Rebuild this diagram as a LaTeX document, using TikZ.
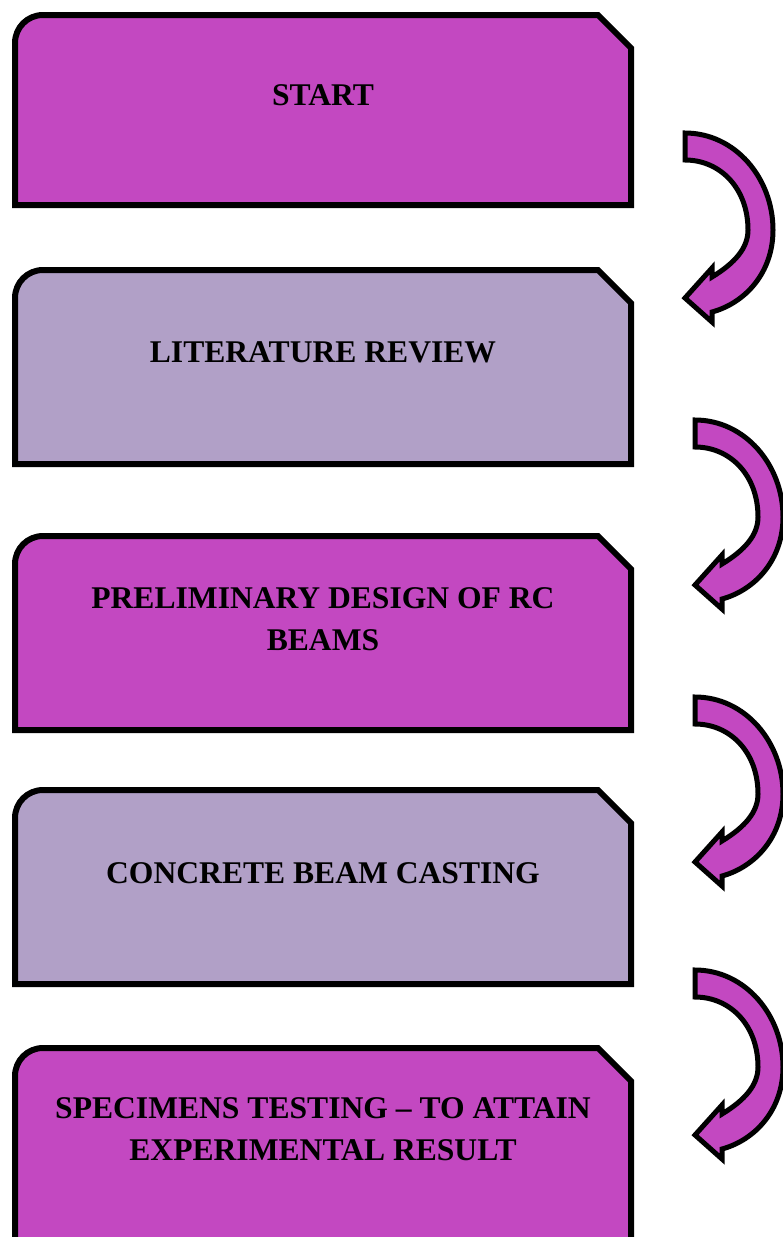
\documentclass[tikz,border=0pt]{standalone}
\usepackage{fontspec}
\setmainfont{Liberation Serif}
\usetikzlibrary{positioning}
\definecolor{stepmagenta}{RGB}{195,72,193}
\definecolor{steplavender}{RGB}{177,160,199}

% box with a round top-left and a cut top-right corner: #1 top, #2 bottom, #3 fill
\newcommand{\stagebox}[3]{%
	\draw [boxline, fill=#3] (15,#2) -- (15,#1+28) .. controls (15,#1+12.5) and (27.5,#1) .. (43,#1)
		-- (598,#1) -- (631,#1+33) -- (631,#2) -- cycle;}

\begin{document}
\begin{tikzpicture}[x=1pt, y=-1pt,
	boxline/.style={draw=black, line width=6pt},
	arrowline/.style={draw=black, fill=stepmagenta, line width=5pt},
	steptext/.style={font=\bfseries\fontsize{31.6}{42}\selectfont, align=center, inner sep=0pt},
	bendarrow/.pic={
		\draw [arrowline] (0,0) .. controls (50,0) and (88,45) .. (88,97)
			.. controls (88,140) and (60,170) .. (27,179) -- (27,189) -- (0,165) -- (27,135) -- (27,144)
			.. controls (50,130) and (63,115) .. (63,97) .. controls (63,55) and (35,27) .. (0,27) -- cycle;}]
	\useasboundingbox (0,0) rectangle (783,1237);
	\clip (0,0) rectangle (783,1237);
%	\draw [help lines, step=50] (0,0) grid (783,1237);
	\stagebox{15}{205}{stepmagenta}
	\stagebox{270}{464}{steplavender}
	\stagebox{536}{730}{stepmagenta}
	\stagebox{790}{984}{steplavender}
	\stagebox{1048}{1300}{stepmagenta}
	\node [steptext] (start) at (323,95.5) {START};
	\node [steptext] (review) at (323,352.5) {LITERATURE REVIEW};
	\node [steptext] (design) at (323,619.5) {PRELIMINARY DESIGN OF RC\\BEAMS};
	\node [steptext] (casting) at (323,873.5) {CONCRETE BEAM CASTING};
	\node [steptext] (testing) at (323,1129.5) {SPECIMENS TESTING -- TO ATTAIN\\EXPERIMENTAL RESULT};
	\pic (turna) at (685,133) {bendarrow};
	\pic (turnb) at (695,420) {bendarrow};
	\pic (turnc) at (695,697) {bendarrow};
	\pic (turnd) at (695,970) {bendarrow};
\end{tikzpicture}
\end{document}
